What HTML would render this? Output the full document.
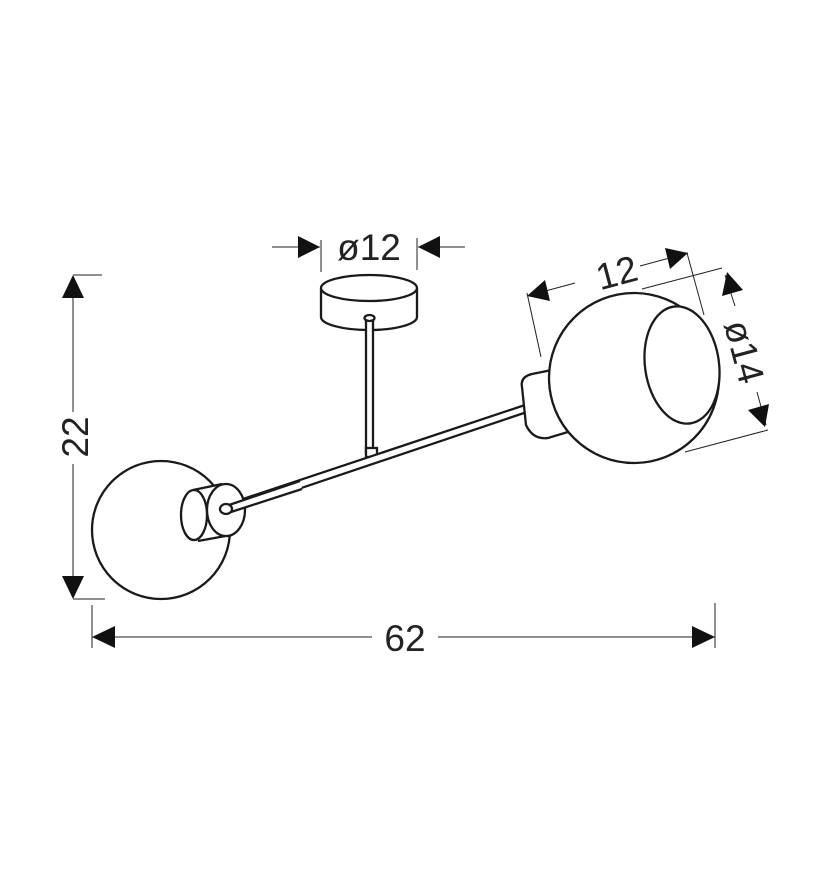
<!DOCTYPE html>
<html><head><style>html,body{margin:0;padding:0;background:#fff}svg{display:block}</style></head><body>
<svg width="828" height="886" viewBox="0 0 828 886" xmlns="http://www.w3.org/2000/svg" font-family="Liberation Sans, sans-serif">
<g fill="none" stroke="#222" stroke-width="1">
<line x1="73" y1="278" x2="73" y2="412"/><line x1="73" y1="464" x2="73" y2="596"/>
<line x1="73" y1="275" x2="102" y2="275"/><line x1="73" y1="599" x2="105" y2="599"/>
<line x1="92" y1="637" x2="372" y2="637"/><line x1="438" y1="637" x2="715" y2="637"/>
<line x1="92" y1="605" x2="92" y2="648"/><line x1="715" y1="603" x2="715" y2="648"/>
<line x1="272" y1="247" x2="320" y2="247"/><line x1="418" y1="247" x2="465" y2="247"/>
<line x1="321" y1="240" x2="321" y2="272"/><line x1="417" y1="238" x2="417" y2="270"/>
<line x1="527" y1="296" x2="575" y2="283"/><line x1="640" y1="266" x2="688" y2="253"/>
<line x1="527" y1="293" x2="541" y2="357"/><line x1="687" y1="253" x2="704" y2="315"/>
<line x1="722" y1="268" x2="642" y2="289"/><line x1="768" y1="430" x2="685" y2="452"/>
<line x1="725" y1="275" x2="735" y2="306"/><line x1="757" y1="392" x2="766" y2="425"/>
</g>
<g fill="#111">
<path d="M73,275 L62,298 L84,298z"/><path d="M73,599 L62,576 L84,576z"/>
<path d="M92,637 L115,626 L115,648z"/><path d="M715,637 L692,626 L692,648z"/>
<path d="M320,247 L298,236 L298,258z"/><path d="M418,247 L440,236 L440,258z"/>
<path d="M527,296 L545,280 L550,301z"/><path d="M688,253 L665,248 L670,269z"/>
<path d="M727,272 L722,296 L743,290z"/><path d="M765,427 L748,410 L769,404z"/>
</g>
<g fill="#222" font-size="37">
<text x="369" y="260" text-anchor="middle">ø12</text>
<text x="405" y="651" text-anchor="middle">62</text>
<text transform="translate(88,437) rotate(-90)" text-anchor="middle">22</text>
<text transform="translate(620,285) rotate(-15)" text-anchor="middle">12</text>
<text transform="translate(732,355) rotate(75)" text-anchor="middle">ø14</text>
</g>
<g fill="#fff" stroke="#1a1a1a" stroke-width="2.3">
<path d="M321,288 L321,317 A48,13 0 0 0 417,317 L417,288"/>
<ellipse cx="369" cy="288" rx="48" ry="13"/>
<rect x="366" y="318" width="7" height="135"/>
<ellipse cx="369.5" cy="318" rx="5" ry="3"/>
<rect x="366" y="448" width="11" height="9"/>
<circle cx="161" cy="530" r="69"/>
<path d="M225,505 L525,405 L527,412 L227,513z"/>
<path d="M193,490 L222,484 L232,535 L198,542z" stroke="none"/>
<path d="M193,490 L222,484 M198,541 L231,535"/>
<ellipse cx="194" cy="515" rx="13" ry="25"/>
<ellipse cx="226" cy="510" rx="19" ry="26"/>
<path d="M229,505 L300,481 L302,489 L231,512z" stroke="none"/>
<path d="M229,505 L300,481 M231,512 L302,489"/>
<ellipse cx="226" cy="509" rx="6" ry="5"/>
<path d="M522,387 Q520,377 532,374 L552,370 L568,432 L548,438 Q533,440 526,425z"/>
<circle cx="634" cy="378" r="85"/>
<ellipse cx="682" cy="365" rx="37" ry="59" transform="rotate(-8 682 365)"/>
</g>
</svg>
</body></html>
